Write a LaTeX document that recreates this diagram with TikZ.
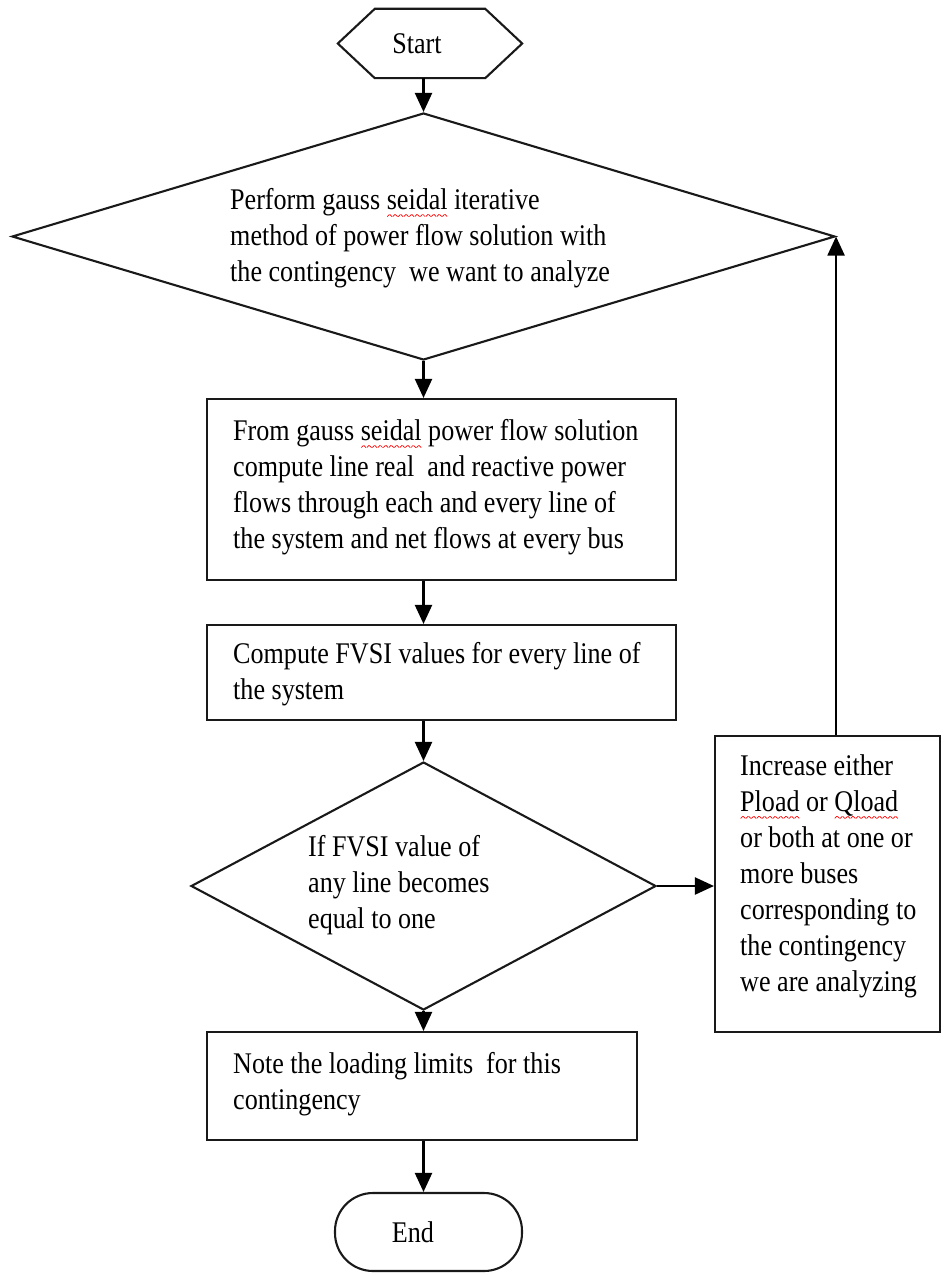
\documentclass[tikz,border=0pt]{standalone}
\usepackage{fontspec}
\setmainfont[FakeStretch=0.87]{Liberation Serif}
\usetikzlibrary{arrows.meta,shapes.geometric}
\newsavebox\spellbox
\newcommand\wavepiece{\rotatebox{45}{\rule{3pt}{0.7pt}}\raisebox{2.1pt}{\rotatebox{-45}{\rule{3pt}{0.7pt}}}}
\newcommand\spellwave[1]{\sbox\spellbox{#1}\leavevmode\rlap{\raisebox{-7.5pt}[0pt][0pt]{\color{red}\hbox to \wd\spellbox{\xleaders\hbox{\wavepiece}\hfill}}}\usebox\spellbox}
\begin{document}
\begin{tikzpicture}[x=1pt,y=1pt,
  every node/.style={font=\fontsize{30}{36}\selectfont, inner sep=0pt},
  shapeline/.style={draw=black!90, line width=2.1pt},
  box/.style={shapeline, rectangle},
  dia/.style={shapeline, diamond},
  label/.style={align=left, anchor=west},
  arr/.style={draw=black, line width=2.1pt, -{Triangle[length=19pt,width=17pt]}},
]
\useasboundingbox (0,0) rectangle (945,-1276);

% shapes
\node[minimum width=184pt, minimum height=69pt] (start) at (430,-43.5) {};
\draw[shapeline, line join=miter] (start.west) -- ([xshift=37pt]start.north west) -- ([xshift=-37pt]start.north east) -- (start.east) -- ([xshift=-37pt]start.south east) -- ([xshift=37pt]start.south west) -- cycle;
\node (startt) at (417,-43.5) {Start};

\node[dia, minimum width=823pt, minimum height=247pt] (d1) at (423.5,-236.5) {};
\node[label] (d1t) at (230,-238)
  {Perform gauss \spellwave{seidal} iterative\\method of power flow solution with\\the contingency~ we want to analyze};

\node[box, minimum width=469pt, minimum height=181pt] (b1) at (441.5,-489.5) {};
\node[label] (b1t) at (233,-487)
  {From gauss \spellwave{seidal} power flow solution\\compute line real~ and reactive power\\flows through each and every line of\\the system and net flows at every bus};

\node[box, minimum width=469pt, minimum height=95pt] (b2) at (441.5,-672.5) {};
\node[label] (b2t) at (233,-674)
  {Compute FVSI values for every line of\\the system};

\node[dia, minimum width=465pt, minimum height=248pt] (d2) at (423.5,-886) {};
\node[label] (d2t) at (308,-885)
  {If FVSI value of\\any line becomes\\equal to one};

\node[box, minimum width=225pt, minimum height=296pt] (rb) at (827.5,-884) {};
\node[label] (rbt) at (740,-876)
  {Increase either\\\spellwave{Pload} or \spellwave{Qload}\\or both at one or\\more buses\\corresponding to\\the contingency\\we are analyzing};

\node[box, minimum width=430pt, minimum height=108pt] (b3) at (422,-1086) {};
\node[label] (b3t) at (233,-1084)
  {Note the loading limits~ for this\\contingency};

\node[shapeline, rounded corners=38pt, minimum width=187pt, minimum height=78pt] (end) at (428.5,-1232) {};
\node (endt) at (413,-1232) {End};

% connectors
\draw[arr] (d1.north |- start.south) -- (d1.north);
\draw[arr] (d1.south) -- (d1.south |- b1.north);
\draw[arr] (d1.south |- b1.south) -- (d1.south |- b2.north);
\draw[arr] (d2.north |- b2.south) -- (d2.north);
\draw[arr] (d2.south) -- (d2.south |- b3.north);
\draw[arr] (d2.south |- b3.south) -- (d2.south |- end.north);
\draw[arr] (d2.east) -- (d2.east -| rb.west);
\draw[arr] (d1.east |- rb.north) -- (d1.east);
\end{tikzpicture}
\end{document}
